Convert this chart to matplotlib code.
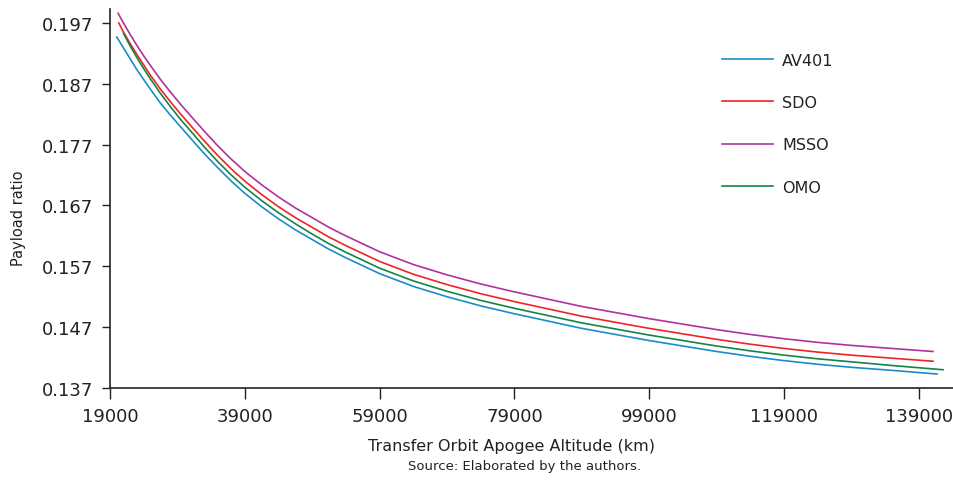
import matplotlib
matplotlib.use("Agg")
import matplotlib.pyplot as plt

# ---- data ----
x_av401 = [20000, 21000, 22000, 23000, 24000, 25000, 26500, 28000, 29500, 31000, 33000, 35000, 37000,
           39000, 41500, 44000, 46500, 49000, 51500, 54000, 59000, 64000, 69000, 74000, 79000, 84000,
           89000, 94000, 99000, 104000, 109000, 114000, 119000, 124000, 129000, 135000, 141700]
y_av401 = [0.1947, 0.1929, 0.1911, 0.1893, 0.1877, 0.1861, 0.1838, 0.1818, 0.1799, 0.1780, 0.1755, 0.1732,
           0.1710, 0.1690, 0.1668, 0.1648, 0.1630, 0.1614, 0.1598, 0.1584, 0.1558, 0.1537, 0.1520, 0.1505,
           0.1492, 0.1480, 0.1468, 0.1458, 0.1448, 0.1439, 0.1430, 0.1422, 0.1415, 0.1409, 0.1404, 0.1399,
           0.1393]

x_sdo = [20300, 21000, 22000, 23000, 24000, 25000, 26500, 28000, 29500, 31000, 33000, 35000, 37000,
         39000, 41500, 44000, 46500, 49000, 51500, 54000, 59000, 64000, 69000, 74000, 79000, 84000,
         89000, 94000, 99000, 104000, 109000, 114000, 119000, 124000, 129000, 135000, 141100]
y_sdo = [0.1970, 0.1955, 0.1936, 0.1918, 0.1901, 0.1884, 0.1861, 0.1840, 0.1820, 0.1801, 0.1776, 0.1752,
         0.1730, 0.1710, 0.1688, 0.1668, 0.1650, 0.1634, 0.1618, 0.1604, 0.1578, 0.1557, 0.1540, 0.1525,
         0.1512, 0.1500, 0.1488, 0.1478, 0.1468, 0.1459, 0.1450, 0.1442, 0.1435, 0.1429, 0.1424, 0.1419,
         0.1414]

x_msso = [20200, 21000, 22000, 23000, 24000, 25000, 26500, 28000, 29500, 31000, 33000, 35000, 37000,
          39000, 41500, 44000, 46500, 49000, 51500, 54000, 59000, 64000, 69000, 74000, 79000, 84000,
          89000, 94000, 99000, 104000, 109000, 114000, 119000, 124000, 129000, 135000, 141100]
y_msso = [0.1986, 0.1970, 0.1951, 0.1933, 0.1916, 0.1900, 0.1877, 0.1856, 0.1836, 0.1817, 0.1792, 0.1768,
          0.1746, 0.1726, 0.1704, 0.1684, 0.1666, 0.1650, 0.1634, 0.1620, 0.1594, 0.1573, 0.1556, 0.1541,
          0.1528, 0.1516, 0.1504, 0.1494, 0.1484, 0.1475, 0.1466, 0.1458, 0.1451, 0.1445, 0.1440, 0.1435,
          0.1430]

x_omo = [21000, 22000, 23000, 24000, 25000, 26500, 28000, 29500, 31000, 33000, 35000, 37000,
         39000, 41500, 44000, 46500, 49000, 51500, 54000, 59000, 64000, 69000, 74000, 79000, 84000,
         89000, 94000, 99000, 104000, 109000, 114000, 119000, 124000, 129000, 135000, 142600]
y_omo = [0.1953, 0.1932, 0.1913, 0.1895, 0.1878, 0.1854, 0.1832, 0.1811, 0.1792, 0.1766, 0.1742,
         0.1720, 0.1700, 0.1678, 0.1658, 0.1640, 0.1623, 0.1607, 0.1593, 0.1567, 0.1546, 0.1529, 0.1514,
         0.1501, 0.1489, 0.1477, 0.1467, 0.1457, 0.1448, 0.1439, 0.1431, 0.1424, 0.1418, 0.1413, 0.1407,
         0.1400]

x_ticks = [19000, 39000, 59000, 79000, 99000, 119000, 139000]
y_ticks = [0.137, 0.147, 0.157, 0.167, 0.177, 0.187, 0.197]

series = [
    ("AV401", x_av401, y_av401, "#1a8cca"),
    ("SDO", x_sdo, y_sdo, "#f02424"),
    ("MSSO", x_msso, y_msso, "#b0329e"),
    ("OMO", x_omo, y_omo, "#138544"),
]

plt.rcParams['font.family'] = ['DejaVu Sans']

fig = plt.figure(figsize=(9.54, 4.81), dpi=100)
ax = fig.add_axes([110 / 954, 92 / 481, (953 - 110) / 954, (389 - 10) / 481])

for name, xs, ys, c in series:
    ax.plot(xs, ys, color=c, lw=1.2, label=name)

ax.set_xlim(19000, 144070)
ax.set_ylim(0.137, 0.1993)
ax.set_xticks(x_ticks)
ax.set_xticklabels([str(v) for v in x_ticks])
ax.set_yticks(y_ticks)
ax.set_yticklabels([f"{v:.3f}" for v in y_ticks])

for s in ("top", "right"):
    ax.spines[s].set_visible(False)
for s in ("left", "bottom"):
    ax.spines[s].set_linewidth(1.2)
    ax.spines[s].set_color("#222222")

ax.tick_params(axis="y", direction="out", length=6, width=1.0, labelsize=13, pad=6, colors="#222222")
ax.tick_params(axis="x", direction="out", length=8, width=1.0, labelsize=13, pad=6, colors="#222222")

ax.set_ylabel("Payload ratio", fontsize=10.5, color="#222222")
ax.yaxis.set_label_coords(-0.100, 0.45)
fig.text(512 / 954, 1 - 446 / 481, "Transfer Orbit Apogee Altitude (km)", ha="center", va="center",
         fontsize=11.5, color="#222222")
fig.text(525 / 954, 1 - 467 / 481, "Source: Elaborated by the authors.", ha="center", va="center",
         fontsize=9.5, color="#222222")

leg = ax.legend(loc="upper left", bbox_to_anchor=(722 / 954, 1 - 53.5 / 481),
                bbox_transform=fig.transFigure, frameon=False, fontsize=11.5,
                handlelength=3.2, handletextpad=0.56, labelspacing=1.72,
                borderpad=0, borderaxespad=0)
for t in leg.get_texts():
    t.set_color("#222222")

fig.savefig("out.png", dpi=100)
